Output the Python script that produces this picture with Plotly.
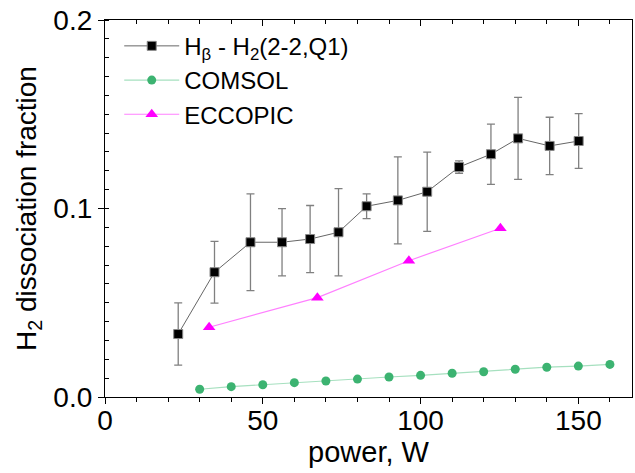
import plotly.graph_objects as go

# H_beta - H2(2-2,Q1) experimental
exp_power = [23.2, 34.7, 46.1, 56.1, 65.0, 74.0, 82.9, 92.8, 102.1, 112.2, 122.3, 130.9, 140.9, 150.1]
exp_frac = [0.0334, 0.0662, 0.0821, 0.0821, 0.0838, 0.0874, 0.1012, 0.1043, 0.1089, 0.1220, 0.1288, 0.1372, 0.1332, 0.1358]
exp_err = [0.0165, 0.0164, 0.0257, 0.0178, 0.0178, 0.0231, 0.0066, 0.0231, 0.0210, 0.0033, 0.0160, 0.0218, 0.0152, 0.0145]

# COMSOL
comsol_power = [30, 40, 50, 60, 70, 80, 90, 100, 110, 120, 130, 140, 150, 160]
comsol_frac = [0.0041, 0.0055, 0.0065, 0.0076, 0.0085, 0.0095, 0.0106, 0.0115, 0.0126, 0.0134, 0.0147, 0.0158, 0.0164, 0.0173]

# ECCOPIC
ecc_power = [33.0, 67.3, 96.3, 125.3]
ecc_frac = [0.037, 0.0527, 0.0723, 0.0895]

FONT = "Liberation Sans, Arial, sans-serif"

fig = go.Figure()
fig.add_trace(go.Scatter(
    x=exp_power, y=exp_frac, mode="lines+markers",
    name="H<sub>β</sub> - H<sub>2</sub>(2-2,Q1)",
    line=dict(color="#666666", width=1),
    marker=dict(symbol="square", size=9, color="black", line=dict(color="#888888", width=1)),
    error_y=dict(type="data", array=exp_err, visible=True, color="#808080", thickness=1.3, width=4),
))
fig.add_trace(go.Scatter(
    x=comsol_power, y=comsol_frac, mode="lines+markers", name="COMSOL",
    line=dict(color="#a6e0bf", width=1.2),
    marker=dict(symbol="circle", size=9, color="#3cb371"),
))
fig.add_trace(go.Scatter(
    x=ecc_power, y=ecc_frac, mode="lines+markers", name="ECCOPIC",
    line=dict(color="#ff80ff", width=1.2),
    marker=dict(symbol="triangle-up", size=11, color="#ff00ff"),
))
# invisible helper trace so the top (mirror) axis with inward ticks is drawn
fig.add_trace(go.Scatter(
    x=comsol_power, y=comsol_frac, xaxis="x2", mode="markers",
    marker=dict(opacity=0), showlegend=False, hoverinfo="skip",
))

fig.update_layout(
    width=635, height=473,
    margin=dict(l=105, r=3, t=20, b=76),
    paper_bgcolor="white", plot_bgcolor="white",
    font=dict(family=FONT, size=28, color="black"),
    showlegend=True,
    legend=dict(x=0.027, y=0.99, xanchor="left", yanchor="top",
                bgcolor="rgba(0,0,0,0)", font=dict(size=24), itemwidth=55,
                tracegroupgap=0),
    xaxis2=dict(
        overlaying="x", side="top", range=[0, 167], tickvals=[0, 50, 100, 150],
        ticks="inside", ticklen=6, tickcolor="black", showticklabels=False,
        minor=dict(dtick=10, tick0=0, ticks="inside", ticklen=4, tickcolor="black"),
        showline=False, showgrid=False, zeroline=False, automargin=False,
    ),
)
fig.update_xaxes(
    selector=dict(anchor="y"), overwrite=False,
)
fig.update_layout(xaxis=dict(
    range=[0, 167], tickvals=[0, 50, 100, 150],
    ticks="outside", ticklen=6, tickwidth=1, tickcolor="black",
    minor=dict(dtick=10, tick0=0, ticks="outside", ticklen=4, tickcolor="black"),
    showline=True, linecolor="black", linewidth=1.3, mirror=True,
    showgrid=False, zeroline=False, automargin=False,
    ticklabelstandoff=-8,
    title=dict(text="power, W", font=dict(size=29), standoff=2),
    tickfont=dict(size=28),
))
fig.update_yaxes(
    range=[0, 0.2], tickvals=[0, 0.1, 0.2], ticktext=["0.0", "0.1", "0.2"],
    ticks="outside", ticklen=6, tickwidth=1, tickcolor="black",
    minor=dict(dtick=0.01, tick0=0, ticks="inside", ticklen=4, tickcolor="black"),
    showline=True, linecolor="black", linewidth=1.3, mirror=True,
    showgrid=False, zeroline=False, automargin=False,
    title=dict(text="H<sub>2</sub> dissociation fraction", font=dict(size=28), standoff=8),
    tickfont=dict(size=28),
)

fig.write_html("out.html", config={"displayModeBar": False},
               post_script="document.body.style.margin='0px';")
